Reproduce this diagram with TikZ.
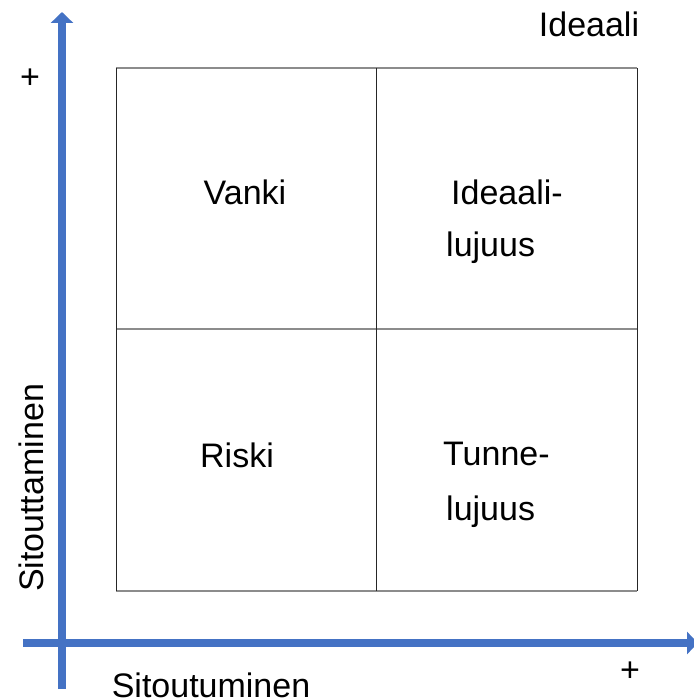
\documentclass[tikz,border=0pt]{standalone}
\usepackage{fontspec}
\setmainfont{Liberation Sans}
\usetikzlibrary{arrows.meta}
\definecolor{axisblue}{HTML}{4472C4}
\begin{document}
\begin{tikzpicture}[x=1pt,y=-1pt,
  axis/.style={axisblue,line width=8pt,-{Triangle[width=22pt,length=11pt]}},
  lbl/.style={font=\fontsize{34}{40}\selectfont,inner sep=0pt},
  hline/.style={draw=black!45,line width=1.2pt},
  vline/.style={draw=black!85,line width=1pt}]
\useasboundingbox (0,0) rectangle (693,700);
% grid
\draw[hline] (116,68) -- (637,68);
\draw[hline] (116,329) -- (637,329);
\draw[hline] (116,591) -- (637,591);
\draw[vline] (116,68) -- (116,591);
\draw[vline] (376,68) -- (376,591);
\draw[vline] (637,68) -- (637,591);
% axes
\coordinate (ys) at (62,689);
\coordinate (ye) at (62,12);
\coordinate (xs) at (23,643);
\coordinate (xe) at (698,643);
\draw[axis] (ys) -- (ye);
\draw[axis] (xs) -- (xe);
% labels
\node[lbl] (ideaali) at (589,24) {Ideaali};
\node[lbl] (py) at (30,79) {+};
\node[lbl] (px) at (630,672) {+};
\node[lbl] (xl) at (211,685) {Sitoutuminen};
\node[lbl,rotate=90] (yl) at (31,488) {Sitouttaminen};
\node[lbl] (vanki) at (245,192) {Vanki};
\node[lbl,anchor=west] (ideal1) at (451,192) {Ideaali-};
\node[lbl,anchor=west] (ideal2) at (446,248) {lujuus};
\node[lbl] (riski) at (237,455) {Riski};
\node[lbl,anchor=west] (tunne1) at (443,454) {Tunne-};
\node[lbl,anchor=west] (tunne2) at (446,512) {lujuus};
\end{tikzpicture}
\end{document}
